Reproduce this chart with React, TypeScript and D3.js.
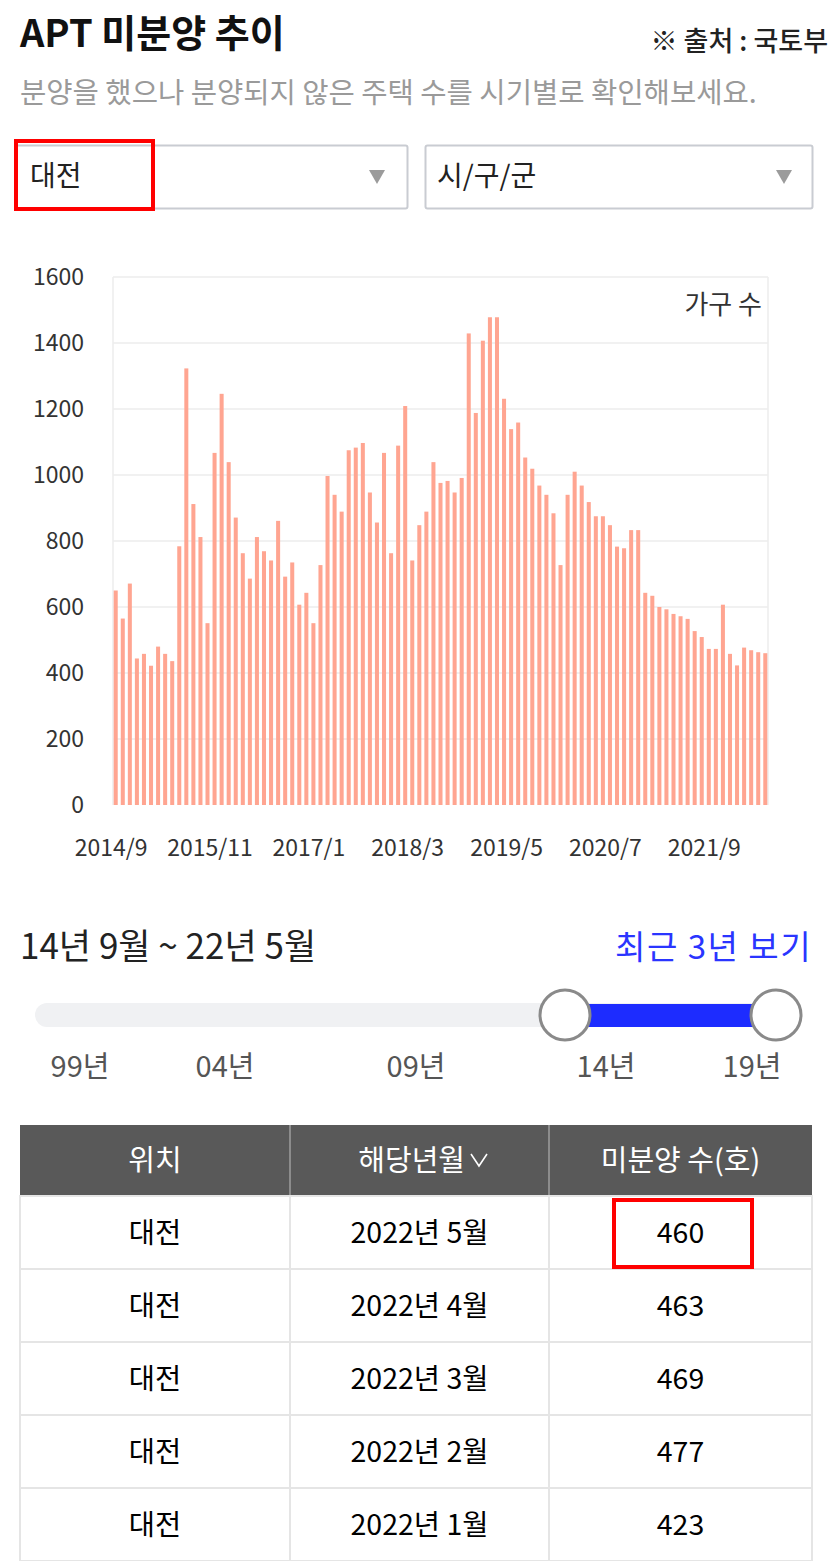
import React from "react";
import * as d3 from "d3";

// ---- data ----
const startYear = 2014;
const startMonth = 9;
const values: number[] = [
  650, 565, 671, 444, 458, 422, 480, 458, 436, 784,
  1323, 912, 812, 551, 1067, 1246, 1039, 871, 763, 686,
  812, 769, 741, 861, 692, 735, 607, 643, 551, 727,
  997, 940, 889, 1075, 1083, 1097, 947, 856, 1067, 763,
  1089, 1209, 741, 848, 889, 1039, 976, 982, 947, 991,
  1429, 1188, 1407, 1478, 1478, 1231, 1139, 1159, 1053, 1019,
  968, 940, 884, 727, 940, 1010, 968, 918, 875, 875,
  848, 783, 778, 833, 833, 643, 634, 600, 593, 579,
  572, 564, 527, 509, 473, 473, 607, 458, 423, 477,
  469, 463, 460,
];
const yTicks: number[] = [0, 200, 400, 600, 800, 1000, 1200, 1400, 1600];
const xTickIndices: number[] = [0, 14, 28, 42, 56, 70, 84];
const sliderLabels: string[] = ["99년", "04년", "09년", "14년", "19년"];
const tableHeaders: string[] = ["위치", "해당년월", "미분양 수(호)"];
const regionName = "대전";

// ---- layout ----
const W = 830;
const H = 1561;
const plot = { left: 113, right: 768, top: 277, bottom: 805 };
const sliderLabelX = [80, 225, 416, 606, 752];
const FONT = "'Noto Sans CJK KR', 'Noto Sans', sans-serif";

function monthLabel(i: number) {
  const m0 = startMonth - 1 + i;
  const y = startYear + Math.floor(m0 / 12);
  const m = (m0 % 12) + 1;
  return { y, m };
}

export default function App() {
  const idx = values.map((_, i) => i);
  const x = d3
    .scaleBand<number>()
    .domain(idx)
    .range([plot.left, plot.right])
    .paddingInner(0.43)
    .paddingOuter(0.1);
  const y = d3.scaleLinear().domain([0, 1600]).range([plot.bottom, plot.top]);
  const step = x.step();

  const n = values.length;
  const rows = d3.range(n - 1, n - 6, -1).map((i) => {
    const { y: yy, m } = monthLabel(i);
    return { loc: regionName, ym: `${yy}년 ${m}월`, v: values[i] };
  });

  const cols = [20, 290, 549, 812];
  const headerTop = 1125;
  const headerH = 71;
  const rowH = 73;

  return (
    <div style={{ position: "absolute", left: 0, top: 0 }}>
      <svg width={W} height={H} style={{ display: "block", fontFamily: FONT }}>
        <rect x={0} y={0} width={W} height={H} fill="#fff" />
        {/* Header */}
        <text x={20} y={47} fontSize={38} fontWeight={700} fill="#111">
          APT 미분양 추이
        </text>
        <text x={828} y={51} fontSize={27} fontWeight={500} fill="#222" textAnchor="end">
          ※ 출처 : 국토부
        </text>
        <text x={20} y={103} fontSize={28.6} fill="#9a9a9a">
          분양을 했으나 분양되지 않은 주택 수를 시기별로 확인해보세요.
        </text>

        {/* Dropdowns */}
        <rect x={15.5} y={145.5} width={392} height={63} fill="#fff" stroke="#c9ccd2" strokeWidth={2} rx={2} />
        <text x={30} y={186} fontSize={28} fill="#222">{regionName}</text>
        <path d="M369,170 L385,170 L377,184 Z" fill="#9b9b9b" />
        <rect x={425.5} y={145.5} width={387} height={63} fill="#fff" stroke="#c9ccd2" strokeWidth={2} rx={2} />
        <text x={437} y={186} fontSize={28} fill="#222">시/구/군</text>
        <path d="M776,170 L792,170 L784,184 Z" fill="#9b9b9b" />
        <rect x={16} y={141} width={137} height={68} fill="none" stroke="#ff0000" strokeWidth={4} />

        {/* Chart grid */}
        {yTicks.map((t) => (
          <g key={t}>
            {t > 0 && (
              <line x1={plot.left} x2={plot.right} y1={y(t)} y2={y(t)} stroke="#ececec" strokeWidth={1.5} />
            )}
            <text x={84} y={y(t)} dy="0.35em" fontSize={23} fill="#333" textAnchor="end">
              {t}
            </text>
          </g>
        ))}
        <line x1={plot.left} x2={plot.left} y1={plot.top} y2={plot.bottom} stroke="#ececec" strokeWidth={1.5} />
        <line x1={plot.right} x2={plot.right} y1={plot.top} y2={plot.bottom} stroke="#ececec" strokeWidth={1.5} />
        <text x={762} y={314} fontSize={26} fill="#333" textAnchor="end">가구 수</text>

        {/* Bars */}
        {values.map((v, i) => (
          <rect
            key={i}
            x={x(i)!}
            y={y(v)}
            width={x.bandwidth()}
            height={y(0) - y(v)}
            fill="#ffa591"
          />
        ))}

        {/* X labels */}
        {xTickIndices.map((i) => {
          const { y: yy, m } = monthLabel(i);
          return (
            <text
              key={i}
              x={(x(i)! - (step - x.bandwidth()) / 2) - 1}
              y={856}
              fontSize={23}
              fill="#333"
              textAnchor="middle"
            >
              {`${yy}/${m}`}
            </text>
          );
        })}

        {/* Range */}
        <text x={20} y={959} fontSize={35} fill="#222">
          {`${String(startYear).slice(2)}년 ${startMonth}월 ~ ${String(monthLabel(n - 1).y).slice(2)}년 ${monthLabel(n - 1).m}월`}
        </text>
        <text x={812} y={959} fontSize={33} letterSpacing={1.5} fill="#2a35ff" textAnchor="end">
          최근 3년 보기
        </text>

        {/* Slider */}
        <rect x={35} y={1003} width={765} height={24} rx={12} fill="#f0f1f3" />
        <rect x={565} y={1004} width={211} height={23} fill="#1d2cff" />
        <circle cx={565} cy={1015} r={25} fill="#fff" stroke="#8a8a8a" strokeWidth={3} />
        <circle cx={776} cy={1015} r={25} fill="#fff" stroke="#8a8a8a" strokeWidth={3} />
        {sliderLabels.map((s, i) => (
          <text key={s} x={sliderLabelX[i]} y={1077} fontSize={29} fill="#555" textAnchor="middle">
            {s}
          </text>
        ))}

        {/* Table */}
        <rect x={cols[0]} y={headerTop} width={cols[3] - cols[0]} height={headerH} fill="#595959" />
        {[1, 2].map((c) => (
          <line key={c} x1={cols[c]} x2={cols[c]} y1={headerTop} y2={headerTop + headerH} stroke="#8c8c8c" strokeWidth={2} />
        ))}
        <text x={(cols[0] + cols[1]) / 2} y={headerTop + 46} fontSize={29} fill="#fff" textAnchor="middle">
          {tableHeaders[0]}
        </text>
        <text x={465} y={headerTop + 46} fontSize={29} fill="#fff" textAnchor="end">
          {tableHeaders[1]}
        </text>
        <path d={`M471,${headerTop + 29} L479,${headerTop + 41} L487,${headerTop + 29}`} fill="none" stroke="#fff" strokeWidth={1.6} />
        <text x={(cols[2] + cols[3]) / 2} y={headerTop + 46} fontSize={29} fill="#fff" textAnchor="middle">
          {tableHeaders[2]}
        </text>

        {rows.map((r, ri) => {
          const top = headerTop + headerH + ri * rowH;
          const cy = top + rowH / 2 + 10;
          return (
            <g key={ri}>
              <rect x={cols[0]} y={top} width={cols[3] - cols[0]} height={rowH} fill="#fff" stroke="#e5e5e5" strokeWidth={2} />
              {[1, 2].map((c) => (
                <line key={c} x1={cols[c]} x2={cols[c]} y1={top} y2={top + rowH} stroke="#e5e5e5" strokeWidth={2} />
              ))}
              <text x={(cols[0] + cols[1]) / 2} y={cy} fontSize={28.5} fill="#000" textAnchor="middle">{r.loc}</text>
              <text x={(cols[1] + cols[2]) / 2} y={cy} fontSize={28.5} fill="#000" textAnchor="middle">{r.ym}</text>
              <text x={(cols[2] + cols[3]) / 2} y={cy} fontSize={28.5} fill="#000" textAnchor="middle">{r.v}</text>
            </g>
          );
        })}
        <rect x={614} y={1200} width={138} height={67} fill="none" stroke="#ff0000" strokeWidth={4} />
      </svg>
    </div>
  );
}
